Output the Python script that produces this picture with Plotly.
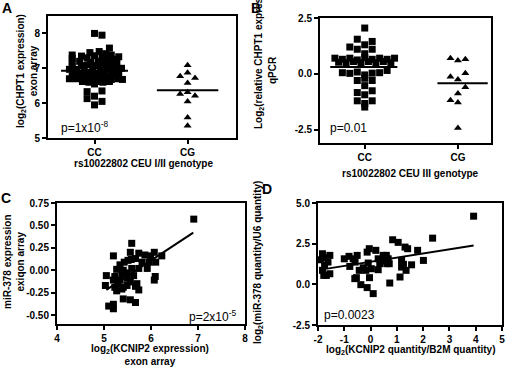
import plotly.graph_objects as go

W, H = 506, 369
FONT = "Arial, Liberation Sans, sans-serif"

# ---------------- Panel A data ----------------
A_cc_off = [0.0, 0.08, 0.16,
            -0.05, 0.05, 0.12,
            -0.24, -0.14, 0.0, 0.18, 0.26,
            -0.24, -0.08, 0.08, 0.15, 0.22,
            -0.24, -0.16, -0.04, 0.04, 0.1, 0.17, 0.24,
            -0.24, -0.14, -0.07, 0.01, 0.08, 0.15, 0.22, 0.29,
            -0.27, -0.19, -0.11, -0.02, 0.06, 0.13, 0.2,
            -0.22, -0.12, -0.05, 0.03, 0.1, 0.18, 0.26,
            -0.24, -0.17, -0.07, 0.02, 0.09, 0.16, 0.24,
            -0.27, -0.2, -0.12, -0.05, 0.03, 0.11, 0.18, 0.25, 0.3,
            -0.13, -0.06, 0.02, 0.09, 0.16,
            0.0, -0.08, 0.08, -0.08, 0.0, 0.08, 0.0]
A_cc_y = [8.0, 7.95, 7.58,
          7.45, 7.48, 7.42,
          7.38, 7.35, 7.36, 7.38, 7.33,
          7.28, 7.3, 7.3, 7.27, 7.25,
          7.18, 7.2, 7.17, 7.2, 7.2, 7.17, 7.14,
          7.06, 7.08, 7.1, 7.08, 7.1, 7.07, 7.05, 7.0,
          6.97, 6.97, 6.95, 6.98, 6.96, 6.97, 6.95,
          6.88, 6.85, 6.88, 6.85, 6.88, 6.86, 6.87,
          6.78, 6.8, 6.77, 6.8, 6.78, 6.77, 6.8,
          6.7, 6.7, 6.68, 6.7, 6.68, 6.7, 6.68, 6.7, 6.68,
          6.62, 6.6, 6.62, 6.6, 6.62,
          6.55, 6.33, 6.35, 6.13, 6.2, 6.05, 5.95]
A_cg_off = [0.0, 0.0, -0.08, 0.08, 0.0, -0.08, 0.0, 0.08, 0.0, 0.0, 0.0]
A_cg_y = [7.09, 6.87, 6.77, 6.72, 6.58, 6.26, 6.31, 6.21, 6.05, 5.59, 5.35]
A_means = [6.93, 6.37]
A_categories = ["CC", "CG"]
A_yticks = [5, 6, 7, 8]

# ---------------- Panel B data ----------------
B_cc_off = [0.0,
            -0.08, 0.08,
            -0.16, -0.08, 0.0, 0.08,
            0.0,
            -0.32, -0.24, -0.16, -0.08, 0.0, 0.08, 0.16, 0.24, 0.32,
            -0.28, -0.2, -0.12, -0.04, 0.04, 0.12, 0.2, 0.28,
            -0.24, -0.16, -0.08, 0.0, 0.08, 0.16, 0.24,
            -0.08, 0.0, 0.08,
            0.0,
            -0.08, 0.0, 0.08,
            -0.08, 0.0, 0.08, 0.0]
B_cc_y = [2.05,
          1.55, 1.45,
          1.2, 1.1, 1.3, 1.1,
          0.9,
          0.7, 0.65, 0.7, 0.62, 0.72, 0.65, 0.7, 0.65, 0.7,
          0.52, 0.5, 0.55, 0.5, 0.55, 0.5, 0.55, 0.5,
          0.05, 0.02, 0.08, -0.05, 0.03, 0.05, 0.15,
          -0.3, -0.2, -0.3,
          -0.53,
          -0.84, -0.94, -0.76,
          -1.21, -1.33, -1.21, -1.49]
B_cg_off = [-0.08, 0.0, 0.08, -0.08, 0.0, 0.08, 0.08, 0.0, -0.08, 0.0, 0.0]
B_cg_y = [0.7, 0.6, 0.65, -0.13, -0.25, 0.03, -0.6, -0.88, -1.18, -1.29, -2.43]
B_means = [0.3, -0.42]
B_yticks = [-2.5, 0.0, 2.5]
B_yticktext = ["-2.5", "0.0", "2.5"]

# ---------------- Panel C data ----------------
C_x = [6.91, 5.59, 5.2, 5.56, 5.74, 5.87, 6.07, 6.23, 5.99,
       5.67, 5.58, 5.51, 5.43, 5.81, 5.96, 6.1,
       5.34, 5.27, 5.41, 5.74, 5.92, 5.59,
       5.05, 5.23, 5.38, 5.49, 5.63, 6.09, 6.07,
       5.2, 5.34, 5.49, 5.56, 5.3, 5.49, 5.7, 5.67,
       5.03, 5.23, 5.41, 5.74, 5.27, 5.38,
       5.41, 5.56, 5.67,
       5.1, 5.2, 5.2]
C_y = [0.57, 0.30, 0.16, 0.2, 0.19, 0.17, 0.2, 0.16, 0.16,
       0.13, 0.12, 0.11, 0.09, 0.09, 0.09, 0.09,
       0.06, 0.01, 0.0, 0.02, 0.02, 0.02,
       -0.06, -0.07, -0.04, -0.03, -0.06, -0.07, -0.11,
       -0.11, -0.11, -0.09, -0.13, -0.15, -0.17, -0.15, -0.18,
       -0.17, -0.19, -0.19, -0.22, -0.23, -0.21,
       -0.32, -0.33, -0.36,
       -0.4, -0.43, -0.38]
C_fit_x = [5.05, 6.9]
C_fit_y = [-0.22, 0.42]
C_xticks = [4, 5, 6, 7, 8]
C_yticks = [-0.5, -0.25, 0.0, 0.25, 0.5, 0.75]
C_yticktext = ["-0.50", "-0.25", "0.00", "0.25", "0.50", "0.75"]

# ---------------- Panel D data ----------------
D_x = [3.92, 2.36, 0.84, 1.05, 1.31, 1.41, 1.79, 2.01,
       -0.05, -0.13, 0.2,
       -1.83, -1.55, -1.78, -1.91, -1.62, -1.75, -1.83, -1.68, -1.78, -1.55,
       -1.0, -0.82, -0.66, -0.51, -0.79, -0.59,
       -0.09, -0.28, -0.18, -0.43, -0.54, -0.6, -0.37, -0.13, 0.1, -0.04, 0.03,
       0.29, 0.45, 0.6, 0.48, 0.67, 0.35, 0.62, 0.29, 0.71,
       0.73, 1.18, 1.18, 1.25, 1.12, 1.35, 1.56]
D_y = [4.19, 2.84, 2.74, 2.58, 2.29, 2.19, 2.09, 1.47,
       2.19, 1.98, 2.09,
       1.88, 1.78, 1.64, 1.51, 1.37, 1.17, 0.86, 0.55, 0.55, 0.65,
       1.57, 1.72, 1.57, 1.78, 1.1, 1.37,
       1.31, 1.02, 0.86, 0.86, 0.41, 0.35, -0.02, -0.2, -0.57, 0.41, 0.96,
       1.57, 1.43, 1.78, 1.78, 1.57, 1.27, 1.27, 0.9, 1.27,
       0.08, 1.47, 1.06, 1.23, 0.45, 0.86, 1.2]
D_fit_x = [-1.83, 3.92]
D_fit_y = [0.92, 2.39]
D_xticks = [-2, -1, 0, 1, 2, 3, 4, 5]
D_xticktext = ["-2", "-1", "0", "1", "2", "3", "4", "5"]
D_yticks = [-2.5, 0.0, 2.5, 5.0]
D_yticktext = ["-2.5", "0.0", "2.5", "5.0"]


def px(x):
    return x / W


def py(y):
    return 1 - y / H


fig = go.Figure()
sq = dict(symbol="square", size=7, color="black")
tri = dict(symbol="triangle-up", size=7, color="black")
line = dict(color="black", width=2)

# Panel A
fig.add_trace(go.Scatter(x=[0 + o for o in A_cc_off], y=A_cc_y, mode="markers",
                         marker=sq, xaxis="x", yaxis="y"))
fig.add_trace(go.Scatter(x=[1 + o for o in A_cg_off], y=A_cg_y, mode="markers",
                         marker=tri, xaxis="x", yaxis="y"))
fig.add_trace(go.Scatter(x=[-0.36, 0.36], y=[A_means[0]] * 2, mode="lines",
                         line=line, xaxis="x", yaxis="y"))
fig.add_trace(go.Scatter(x=[1 - 0.33, 1 + 0.33], y=[A_means[1]] * 2, mode="lines",
                         line=line, xaxis="x", yaxis="y"))
# Panel B
fig.add_trace(go.Scatter(x=[0 + o for o in B_cc_off], y=B_cc_y, mode="markers",
                         marker=sq, xaxis="x2", yaxis="y2"))
fig.add_trace(go.Scatter(x=[1 + o for o in B_cg_off], y=B_cg_y, mode="markers",
                         marker=tri, xaxis="x2", yaxis="y2"))
fig.add_trace(go.Scatter(x=[-0.37, 0.35], y=[B_means[0]] * 2, mode="lines",
                         line=line, xaxis="x2", yaxis="y2"))
fig.add_trace(go.Scatter(x=[1 - 0.22, 1 + 0.32], y=[B_means[1]] * 2, mode="lines",
                         line=line, xaxis="x2", yaxis="y2"))
# Panel C
fig.add_trace(go.Scatter(x=C_x, y=C_y, mode="markers", marker=sq, xaxis="x3", yaxis="y3"))
fig.add_trace(go.Scatter(x=C_fit_x, y=C_fit_y, mode="lines", line=line, xaxis="x3", yaxis="y3"))
# Panel D
fig.add_trace(go.Scatter(x=D_x, y=D_y, mode="markers", marker=sq, xaxis="x4", yaxis="y4"))
fig.add_trace(go.Scatter(x=D_fit_x, y=D_fit_y, mode="lines", line=line, xaxis="x4", yaxis="y4"))

tickfont = dict(family=FONT, size=10, color="black", weight="bold")
common = dict(showline=True, linecolor="black", linewidth=2, mirror=True,
              ticks="outside", ticklen=4, tickwidth=2, tickcolor="black",
              showgrid=False, zeroline=False, tickfont=tickfont, automargin=False)

fig.update_layout(
    width=W, height=H, margin=dict(l=0, r=0, t=0, b=0, autoexpand=False),
    paper_bgcolor="white", plot_bgcolor="white", showlegend=False,
    font=dict(family=FONT, color="black"),
    xaxis=dict(domain=[px(48), px(236)], anchor="y", range=[-0.5, 1.52],
               tickvals=[0, 1], ticktext=A_categories, **common),
    yaxis=dict(domain=[py(138), py(16)], anchor="x", range=[5, 8.5],
               tickvals=A_yticks, **common),
    xaxis2=dict(domain=[px(320), px(491)], anchor="y2", range=[-0.48, 1.355],
                tickvals=[0, 1], ticktext=A_categories, **common),
    yaxis2=dict(domain=[py(143), py(18)], anchor="x2", range=[-3.1, 2.5],
                tickvals=B_yticks, ticktext=B_yticktext, **common),
    xaxis3=dict(domain=[px(57), px(245)], anchor="y3", range=[4, 8],
                tickvals=C_xticks, **common),
    yaxis3=dict(domain=[py(324), py(203)], anchor="x3", range=[-0.6, 0.75],
                tickvals=C_yticks, ticktext=C_yticktext, **common),
    xaxis4=dict(domain=[px(318), px(502)], anchor="y4", range=[-2, 5],
                tickvals=D_xticks, ticktext=D_xticktext, **common),
    yaxis4=dict(domain=[py(325), py(203)], anchor="x4", range=[-2.5, 5],
                tickvals=D_yticks, ticktext=D_yticktext, **common),
)

bold10 = dict(family=FONT, size=10, color="black")
annos = [
    # panel letters
    dict(x=7, y=8, text="<b>A</b>", font=dict(family=FONT, size=14, color="black")),
    dict(x=256, y=8, text="<b>B</b>", font=dict(family=FONT, size=14, color="black")),
    dict(x=6, y=198, text="<b>C</b>", font=dict(family=FONT, size=14, color="black")),
    dict(x=267, y=189, text="<b>D</b>", font=dict(family=FONT, size=14, color="black")),
    # y titles
    dict(x=27, y=71, text="<b>log<sub>2</sub>(CHPT1 expression)<br>exon array</b>",
         textangle=-90, font=bold10),
    dict(x=259, y=52, text="<b>Log<sub>2</sub>(relative CHPT1 expression)</b>",
         textangle=-90, font=bold10),
    dict(x=272, y=70, text="<b>qPCR</b>", textangle=-90, font=bold10),
    dict(x=14, y=262, text="<b>miR-378 expression<br>exiqon array</b>",
         textangle=-90, font=bold10),
    dict(x=258, y=263, text="<b>log<sub>2</sub>(miR-378 quantity/U6 quantity)</b>",
         textangle=-90, font=bold10),
    # x titles
    dict(x=143, y=163, text="<b>rs10022802 CEU I/II genotype</b>", font=bold10),
    dict(x=410, y=173, text="<b>rs10022802 CEU III genotype</b>", font=bold10),
    dict(x=150, y=355, text="<b>log<sub>2</sub>(KCNIP2 expression)<br>exon array</b>", font=bold10),
    dict(x=410, y=350, text="<b>log<sub>2</sub>(KCNIP2 quantity/B2M quantity)</b>", font=bold10),
    # p values
    dict(x=59, y=127, text="p=1x10<sup>-8</sup>", xanchor="left",
         font=dict(family=FONT, size=12, color="black")),
    dict(x=328, y=128, text="p=0.01", xanchor="left",
         font=dict(family=FONT, size=12, color="black")),
    dict(x=238, y=316, text="p=2x10<sup>-5</sup>", xanchor="right",
         font=dict(family=FONT, size=12, color="black")),
    dict(x=322, y=315, text="p=0.0023", xanchor="left",
         font=dict(family=FONT, size=12, color="black")),
]
for a in annos:
    a.setdefault("xanchor", "center")
    a["x"] = px(a["x"])
    a["y"] = py(a["y"])
    a.update(xref="paper", yref="paper", yanchor="middle", showarrow=False)
fig.update_layout(annotations=annos)

fig.write_html("out.html", config={"displayModeBar": False},
               post_script="document.body.style.margin='0';document.body.style.overflow='hidden';")
